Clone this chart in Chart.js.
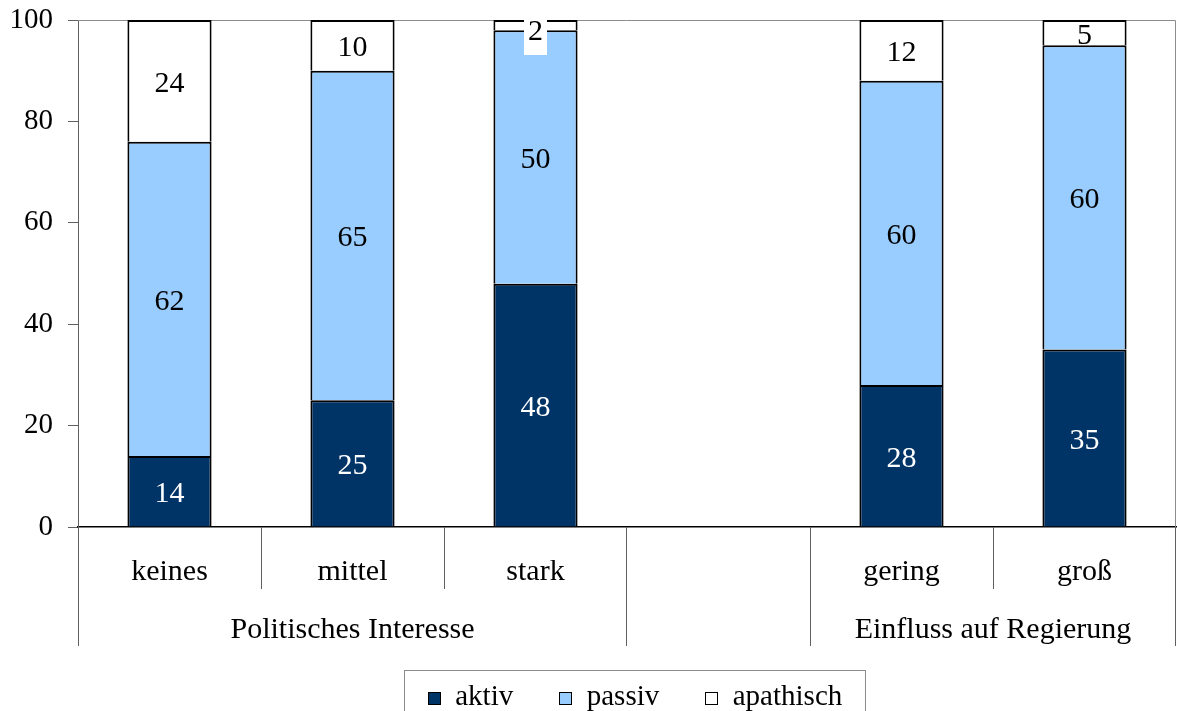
<!DOCTYPE html>
<html>
<head>
<meta charset="utf-8">
<script src="https://cdn.jsdelivr.net/npm/chart.js@4.4.1/dist/chart.umd.min.js"></script>
<style>
    html, body { margin: 0; padding: 0; background: #fff; }
    #wrap { width: 1178px; height: 711px; position: relative; }
</style>
</head>
<body>
<div id="wrap"><canvas id="__chart_bars"></canvas></div>
<script>

const categories = [ 'keines', 'mittel', 'stark', '', 'gering', 'groß' ];
const groupNames = [ 'Politisches Interesse', 'Einfluss auf Regierung' ];
const groupRanges = [ [ 0, 2 ], [ 4, 5 ] ];

const seriesNames = [ 'aktiv', 'passiv', 'apathisch' ];
const aktiv = [ 14, 25, 48, null, 28, 35 ];
const passiv = [ 62, 65, 50, null, 60, 60 ];
const apathisch = [ 24, 10, 2, null, 12, 5 ];

const yTicks = [ 0, 20, 40, 60, 80, 100 ];

const FONT = "'Liberation Serif', 'Times New Roman', serif";
const SIZE = 30;

document.addEventListener( 'DOMContentLoaded', function () {

    /**
     * plot frame (top + right), drawn under the bars
     */

    const frame = {
        id: 'frame',
        beforeDatasetsDraw( chart ) {
            const { ctx, chartArea: a } = chart;
            ctx.save();
            ctx.strokeStyle = '#8c8c8c';
            ctx.lineWidth = 1;
            ctx.beginPath();
            ctx.moveTo( a.left, a.top + 0.5 );
            ctx.lineTo( a.right - 0.5, a.top + 0.5 );
            ctx.lineTo( a.right - 0.5, a.bottom );
            ctx.stroke();
            ctx.restore();
        }
    };

    /**
     * value labels in the middle of every segment
     */

    const barLabels = {
        id: 'barLabels',
        afterDatasetsDraw( chart ) {
            const { ctx, chartArea: a } = chart;
            ctx.save();
            ctx.font = SIZE + 'px ' + FONT;
            ctx.textAlign = 'center';
            ctx.textBaseline = 'middle';
            chart.data.datasets.forEach( ( ds, i ) => {
                chart.getDatasetMeta( i ).data.forEach( ( bar, j ) => {
                    const v = ds.data[ j ];
                    if( v == null ) return;
                    let y = ( bar.y + bar.base ) / 2 + 3;
                    if( Math.abs( bar.base - bar.y ) < 15 ) {
                        // too thin: label sits on a white patch below the top
                        y = Math.max( y, a.top + 12 );
                        const w = ctx.measureText( String( v ) ).width + 8;
                        ctx.fillStyle = '#fff';
                        ctx.fillRect( bar.x - w / 2, y - 13, w, 36 );
                    }
                    ctx.fillStyle = i === 0 ? '#fff' : '#000';
                    ctx.fillText( String( v ), bar.x, y );
                } );
            } );
            ctx.restore();
        }
    };

    /**
     * two level category axis: dividers + group names
     */

    const groupAxis = {
        id: 'groupAxis',
        afterDraw( chart ) {
            const { ctx, chartArea: a, scales: { x } } = chart;
            const half = ( x.getPixelForValue( 1 ) - x.getPixelForValue( 0 ) ) / 2;
            const shortEnd = a.bottom + 62;
            const longEnd = a.bottom + 119;

            ctx.save();
            ctx.strokeStyle = '#606060';
            ctx.lineWidth = 1;

            // y axis carried down through the label rows
            ctx.beginPath();
            ctx.moveTo( a.left + 0.5, a.bottom );
            ctx.lineTo( a.left + 0.5, longEnd );
            ctx.stroke();

            groupRanges.forEach( ( r ) => {
                const x0 = Math.round( x.getPixelForValue( r[0] ) - half ) + 0.5;
                const x1 = Math.round( x.getPixelForValue( r[1] ) + half ) - 0.5;
                ctx.beginPath();
                ctx.moveTo( x0, a.bottom );
                ctx.lineTo( x0, longEnd );
                ctx.moveTo( x1, a.bottom );
                ctx.lineTo( x1, longEnd );
                for( let i = r[0]; i < r[1]; i++ ) {
                    const xi = Math.round( x.getPixelForValue( i ) + half ) + 0.5;
                    ctx.moveTo( xi, a.bottom );
                    ctx.lineTo( xi, shortEnd );
                }
                ctx.stroke();
            } );

            ctx.fillStyle = '#000';
            ctx.font = SIZE + 'px ' + FONT;
            ctx.textAlign = 'center';
            ctx.textBaseline = 'middle';
            groupNames.forEach( ( name, g ) => {
                const r = groupRanges[ g ];
                const cx = ( x.getPixelForValue( r[0] ) + x.getPixelForValue( r[1] ) ) / 2;
                ctx.fillText( name, cx, a.bottom + 103 );
            } );
            ctx.restore();
        }
    };

    /**
     * boxed legend under the axis
     */

    const boxLegend = {
        id: 'boxLegend',
        afterDraw( chart ) {
            const { ctx } = chart;
            const size = 29, box = 13, gap = size / 2, spacing = 46, baseY = 705;
            ctx.save();
            ctx.font = size + 'px ' + FONT;
            const items = chart.data.datasets;
            const widths = items.map( ds => box + gap + ctx.measureText( ds.label ).width );
            const total = widths.reduce( ( s, w ) => s + w, 0 ) + spacing * ( items.length - 1 );
            let x = 635 - total / 2;

            ctx.strokeStyle = '#8c8c8c';
            ctx.lineWidth = 1;
            ctx.strokeRect( Math.round( x - 24 ) + 0.5, 670.5, Math.round( total + 46 ), 60 );

            ctx.textAlign = 'left';
            ctx.textBaseline = 'alphabetic';
            items.forEach( ( ds, i ) => {
                const bx = Math.round( x );
                ctx.fillStyle = ds.backgroundColor;
                ctx.fillRect( bx, baseY - 13, box, box );
                ctx.strokeStyle = '#000';
                ctx.strokeRect( bx + 0.5, baseY - 12.5, box - 1, box - 1 );
                ctx.fillStyle = '#000';
                ctx.fillText( ds.label, x + box + gap, baseY );
                x += widths[ i ] + spacing;
            } );
            ctx.restore();
        }
    };

    /**
     * create chart
     */

    const colors = [ '#003366', '#99ccff', '#ffffff' ];
    const series = [ aktiv, passiv, apathisch ];

    new Chart( document.getElementById( '__chart_bars' ).getContext( '2d' ), {
        type: 'bar',
        data: {
            labels: categories,
            datasets: series.map( ( values, i ) => ( {
                label: seriesNames[ i ],
                data: values,
                backgroundColor: colors[ i ],
                borderColor: '#000',
                borderWidth: 2,
                barPercentage: 0.46,
                categoryPercentage: 1
            } ) )
        },
        options: {
            responsive: true,
            maintainAspectRatio: false,
            animation: false,
            layout: {
                padding: { top: 20, right: 2, left: 0, bottom: 0 }
            },
            plugins: {
                legend: { display: false },
                tooltip: { enabled: false }
            },
            scales: {
                x: {
                    stacked: true,
                    afterFit: ( scale ) => {
                        scale.height = 184;
                        scale.paddingLeft = 0;
                        scale.paddingRight = 0;
                    },
                    border: { display: true, color: '#000', width: 1.5 },
                    grid: { display: false, drawTicks: false },
                    ticks: {
                        color: '#000',
                        padding: 27,
                        maxRotation: 0,
                        autoSkip: false,
                        font: { family: FONT, size: SIZE }
                    }
                },
                y: {
                    stacked: true,
                    min: yTicks[0],
                    max: yTicks[ yTicks.length - 1 ],
                    afterFit: ( scale ) => {
                        scale.width = 78;
                        scale.paddingTop = 0;
                        scale.paddingBottom = 0;
                    },
                    afterBuildTicks: ( scale ) => {
                        scale.ticks = yTicks.map( v => ( { value: v } ) );
                    },
                    border: { display: true, color: '#606060', width: 1 },
                    grid: {
                        drawOnChartArea: false,
                        drawTicks: true,
                        tickLength: 10,
                        color: '#606060'
                    },
                    ticks: {
                        color: '#000',
                        padding: 15,
                        font: { family: FONT, size: 29 }
                    }
                }
            }
        },
        plugins: [ frame, barLabels, groupAxis, boxLegend ]
    } );

} );

</script>
</body>
</html>
